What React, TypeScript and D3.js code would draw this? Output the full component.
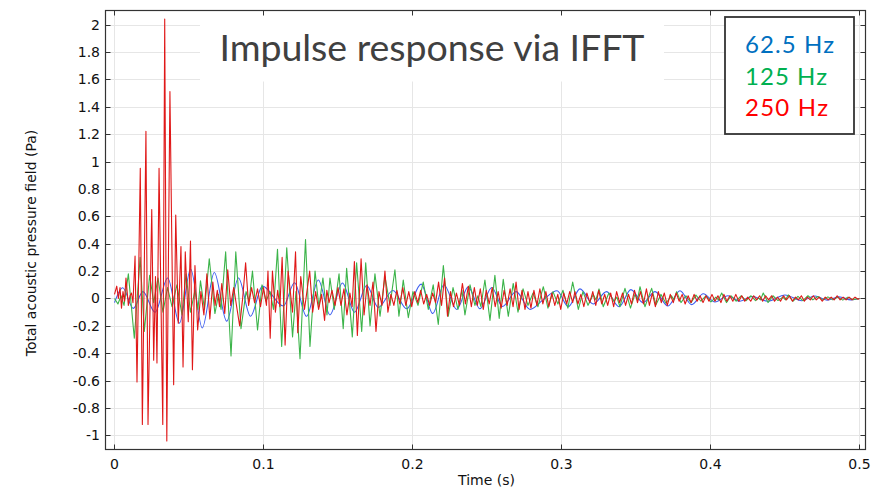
import React from 'react';
import * as d3 from 'd3';

// time in ms, value in Pa
const blueData: [number, number][] = [
  [0,-0.03],[5.5,0.078],[12.6,-0.072],[19.1,0.05],[27.2,-0.10],[35.7,0.15],[43.6,-0.18],[51.1,0.215],[58.9,-0.215],[67.0,0.19],[75.3,-0.165],[83.2,0.15],[91.3,-0.13],[99.3,0.09],[113.3,-0.055],[120.8,0.115],[128.9,-0.13],[136.8,0.135],[144.6,-0.12],[153.0,0.113],[161.1,-0.10],[169.3,0.095],[177.0,-0.065],[186.9,0.058],[196.1,-0.075],[205.8,0.105],[213.6,-0.11],[221.1,0.10],[229.7,-0.08],[237.4,0.085],[245.3,-0.075],[253.2,0.08],[260.4,-0.058],[269.5,0.05],[278.9,-0.08],[287.6,-0.01],[297.0,0.057],[304.6,-0.06],[312.4,0.07],[321.3,-0.04],[330.3,0.05],[338.6,-0.06],[346.6,0.065],[354.7,-0.03],[362.8,0.05],[371.5,-0.055],[379.5,0.057],[387.4,-0.045],[395.2,0.035],[403.0,-0.025],[411.7,0.02],[419.8,-0.02],[427.9,0.015],[438.6,-0.02],[450.0,0.026],[461.2,-0.016],[470.1,0.018],[478.2,-0.012],[486.2,0.012],[494.3,-0.01],[500,0.0]
];

const greenData: [number, number][] = [
  [0,0],[2.3,-0.04],[4.4,0.02],[6.4,-0.05],[9.3,0.18],[13.3,-0.29],[17.2,0.30],[20.0,-0.24],[23.6,0.17],[26.3,-0.03],[29.2,0.15],[32.5,-0.10],[35.6,0.08],[38.6,-0.06],[41.9,0.10],[45.3,-0.12],[48.0,0.18],[51.0,-0.10],[54.0,0.06],[56.0,-0.08],[57.7,0.13],[60.4,-0.08],[63.6,0.29],[67.4,-0.11],[69.8,0.03],[71.5,-0.08],[74.6,0.34],[78.2,-0.42],[81.4,0.34],[84.9,-0.22],[88.3,0.05],[90.3,-0.02],[92.6,0.20],[96.0,-0.23],[99.0,0.10],[101.7,-0.02],[104.4,0.05],[106.7,-0.08],[109.4,0.36],[112.2,-0.35],[115.6,0.37],[119.5,-0.28],[121.8,0.05],[124.5,-0.44],[128.2,0.43],[131.2,-0.35],[134.6,0.20],[137.2,-0.06],[139.9,0.15],[142.6,-0.12],[144.6,0.15],[147.5,-0.08],[150.7,0.18],[153.5,-0.22],[155.8,0.22],[159.6,-0.28],[162.5,0.26],[165.9,-0.24],[168.6,0.26],[171.5,-0.20],[174.8,0.18],[178.2,-0.13],[181.5,0.16],[184.9,-0.05],[188.2,0.21],[190.9,-0.13],[193.8,0.135],[197.2,-0.14],[200.3,0.05],[203.7,-0.05],[207.2,0.12],[210.6,-0.08],[213.9,0.10],[217.3,-0.19],[220.7,0.24],[224.0,-0.13],[227.2,0.08],[230.5,-0.08],[233.2,0.06],[235.2,-0.12],[238.6,0.10],[241.9,-0.05],[243.9,0.02],[245.9,-0.06],[248.6,0.135],[252.0,-0.16],[255.3,0.17],[258.2,-0.145],[260.9,0.14],[264.3,-0.13],[267.6,0.11],[270.8,-0.10],[274.2,0.07],[277.5,-0.05],[280.9,0.04],[284.2,-0.06],[287.8,0.086],[290.9,-0.07],[294.3,0.05],[297.6,-0.04],[301.0,0.06],[304.3,-0.07],[307.5,0.12],[311.3,-0.08],[314.4,0.05],[317.8,-0.05],[321.3,0.03],[323.1,-0.01],[325.2,0.07],[328.0,-0.06],[331.8,0.04],[335.2,-0.02],[337.2,0.01],[339.2,-0.06],[342.6,0.074],[346.3,-0.07],[349.3,0.03],[351.0,-0.01],[352.7,0.086],[356.0,-0.06],[360.5,0.074],[363.4,-0.045],[366.7,0.03],[370.1,-0.035],[373.8,0.02],[375.4,-0.01],[377.3,0.05],[380.2,-0.03],[383.5,0.02],[386.9,-0.03],[390.2,0.025],[393.6,-0.02],[396.9,0.02],[400.3,-0.025],[403.6,0.01],[405.3,-0.01],[407.5,0.04],[410.7,-0.03],[413.8,0.02],[417.2,-0.02],[420.5,0.02],[423.9,-0.015],[427.2,0.02],[430.2,-0.015],[432.2,0.005],[433.5,-0.01],[435.4,0.04],[438.6,-0.03],[441.9,0.02],[445.3,-0.015],[448.6,0.01],[450.3,-0.01],[452.2,0.026],[455.3,-0.02],[458.7,0.015],[462.0,-0.015],[465.4,0.02],[468.7,-0.01],[472.1,0.015],[475.4,-0.012],[478.8,0.012],[482.1,-0.01],[485.5,0.01],[488.8,-0.012],[492.2,0.01],[495.5,-0.008],[500,0]
];

const redData: [number, number][] = [
  [0,0.03],[1.5,0.09],[2.6,0.0],[3.7,0.08],[4.7,-0.07],[5.7,0.05],[6.7,-0.02],[7.7,0.15],[9.3,-0.05],[10.4,0.02],[11.4,0.04],[12.4,-0.03],[13.8,0.31],[15.1,-0.61],[17.3,0.95],[18.7,-0.92],[21.1,1.22],[22.5,-0.92],[25.0,0.65],[26.3,-0.45],[27.5,0.16],[28.5,-0.47],[29.9,0.95],[32.4,-0.92],[33.7,2.04],[35.1,-1.04],[37.2,1.51],[39.7,-0.63],[41.1,0.61],[42.8,-0.18],[44.6,0.38],[46.0,-0.50],[47.5,0.34],[49.5,-0.17],[51.0,0.42],[52.3,-0.52],[54.0,0.24],[55.8,-0.23],
  [58,0.05],[60,-0.12],[62,0.18],[64,-0.15],[66,0.12],[67.5,-0.05],[69,0.06],[70.5,-0.06],[72,0.11],[74,-0.11],[76,0.21],[78,-0.05],[80,0.08],[84,-0.2],[86,0.0],[88,0.26],[90,-0.05],[92,0.08],[94,-0.03],[96,0.07],[98,-0.06],[100,0.08],[102,-0.05],[103,0.2],[104.5,-0.29],[106,0.2],[108,-0.1],[109.5,0.06],[111,-0.06],[112.5,0.3],[114.5,-0.34],[116.5,0.2],[119.5,-0.1],[121.5,0.34],[123,-0.25],[125,0.16],[127.5,-0.08],[131,0.2],[133,-0.1],[135,0.05],[137,-0.08],[139,0.03],[141,-0.16],[142.5,0.06],[144,-0.03],[146,0.06],[148,-0.05],[150,0.08],[152,-0.05],[154,0.07],[156,-0.12],[158,0.04],[159.5,-0.06],[161,0.27],[163,-0.27],[165.5,0.29],[167.5,-0.12],[169.5,0.1],[171.5,-0.05],[173.5,0.12],[175.5,-0.24],[177.5,0.05],[179.5,-0.05],[181.5,0.2],[183.5,-0.1],[185.5,0.03],[187.5,-0.05],[189.5,0.06],[191.5,-0.04],[193.5,0.08],[195.5,-0.05],[197.5,0.05],[199.5,-0.06],[201.5,0.05],[203.5,-0.03],[205.5,0.06],[207.5,-0.04],[209.5,0.03],[211.5,-0.05],[213.5,0.04],[215.5,-0.03],[217.5,0.12],[219.5,-0.05],[221.5,0.15],[223.5,-0.13],[225.5,0.05],[227.5,-0.06],[229.5,0.04],[231.5,-0.05],[233.5,0.11],[235.5,-0.04],[237.5,0.09],[239.5,-0.06],[241.5,0.08],[243.5,-0.05],[245.5,0.07],[247.5,-0.08],[249.5,0.06],[251.5,-0.04],[253.5,0.08],[255.5,-0.06],[257.5,0.05],[259.5,-0.07],[261.5,0.06],[263.5,-0.05],[265.5,0.07],[267.5,-0.06],[269.5,0.12],[271.5,-0.08],[273.5,0.06],[275.5,-0.08],[277.5,0.05],[279.5,-0.07],[281.5,0.06],[283.5,-0.05],[285.5,0.07],[287.5,-0.04],[289.5,0.05],[291.5,-0.06],[293.5,0.04],[295.5,-0.05],[297.5,0.03],[299.5,-0.08],[301.5,0.04],[303.5,-0.04],[305.5,0.05],[307.5,-0.03],
  [309,0.05],[311,-0.04],[313,0.03],[315,-0.06],[317,0.04],[319,-0.03],[321,0.05],[323,-0.05],[325,0.06],[327,-0.04],[329,0.03],[331,-0.05],[333,0.04],[335,-0.06],[337,0.05],[339,-0.03],[341,0.04],[343,-0.05],[345,0.03],[347,-0.04],[349,0.06],[351,-0.03],[353,0.05],[355,-0.04],[357,0.07],[359,-0.05],[361,0.04],[363,-0.06],[365,0.05],[367,-0.03],[369,0.04],[371,-0.05],[373,0.03],[375,-0.03],[377,0.04],[379,-0.02],[381,0.03],[383,-0.04],[385,0.02],[387,-0.03],[389,0.03],[391,-0.02],[393,0.02],[395,-0.03],[397,0.02],[399,-0.02],[401,0.03],[403,-0.02],[405,0.02],[407,-0.03],[409,0.03],[411,-0.02],[413,0.02],[415,-0.02],[417,0.03],[419,-0.02],[421,0.02],[423,-0.02],[425,0.01],[427,-0.02],[429,0.02],[431,-0.01],[433,0.02],[435,-0.02],[437,0.02],[439,-0.01],[441,0.02],[443,-0.02],[445,0.01],[447,-0.02],[449,0.02],[451,-0.01],[453,0.02],[455,-0.02],[457,0.01],[459,-0.01],[461,0.02],[463,-0.02],[465,0.01],[467,-0.01],[469,0.02],[471,-0.01],[473,0.01],[475,-0.02],[477,0.01],[479,-0.01],[481,0.01],[483,-0.01],[485,0.02],[487,-0.01],[489,0.01],[491,-0.01],[493,0.01],[495,-0.01],[497,0.01],[499,-0.005],[500,0]
];

const xTicks = [0, 0.1, 0.2, 0.3, 0.4, 0.5];
const yTicks = [-1, -0.8, -0.6, -0.4, -0.2, 0, 0.2, 0.4, 0.6, 0.8, 1, 1.2, 1.4, 1.6, 1.8, 2];
const legendLabels = ['62.5 Hz', '125 Hz', '250 Hz'];
const titleText = 'Impulse response via IFFT';
const xLabel = 'Time (s)';
const yLabel = 'Total acoustic pressure field (Pa)';

const lineColors = ['#3d5ef0', '#3cb44a', '#e01818'];
const legendColors = ['#0070c0', '#00b050', '#ff0000'];
const legendWidths = [89, 82, 83];

export default function App() {
  const W = 887, H = 488;
  const L = 105.5, R = 865.5, T = 10.5, B = 449.5;
  const x = d3.scaleLinear().domain([-0.00604, 0.50403]).range([L, R]);
  const y = d3.scaleLinear().domain([-1.1022, 2.1022]).range([B, T]);
  const sharp = d3.line<[number, number]>().x(d => x(d[0] / 1000)).y(d => y(d[1]));
  const smooth = d3.line<[number, number]>().x(d => x(d[0] / 1000)).y(d => y(d[1])).curve(d3.curveMonotoneX);
  const tickFont = "'DejaVu Sans', sans-serif";
  const fmt = (v: number) => String(+v.toFixed(1));
  return (
    <svg width={W} height={H} style={{ position: 'absolute', left: 0, top: 0, background: '#fff' }}>
      <rect x={0} y={0} width={W} height={H} fill="#fff" />
      <defs>
        <clipPath id="plotclip"><rect x={L} y={T} width={R - L} height={B - T} /></clipPath>
      </defs>
      {/* grid */}
      <g stroke="#e6e6e6" strokeWidth={1}>
        {yTicks.map(v => <line key={'gy' + v} x1={L} x2={R} y1={Math.round(y(v)) + 0.5} y2={Math.round(y(v)) + 0.5} />)}
        {xTicks.map(v => <line key={'gx' + v} y1={T} y2={B} x1={Math.round(x(v)) + 0.5} x2={Math.round(x(v)) + 0.5} />)}
      </g>
      {/* title box */}
      <rect x={200} y={T + 1} width={464} height={70} fill="#fff" />
      <text x={432} y={61} textAnchor="middle" fontFamily="Lato, sans-serif" fontSize={37.5} fill="#404040" textLength={425} lengthAdjust="spacing">{titleText}</text>
      {/* series */}
      <g clipPath="url(#plotclip)" fill="none" strokeWidth={1.1} strokeLinejoin="round">
        <path d={smooth(blueData) || ''} stroke={lineColors[0]} />
        <path d={sharp(greenData) || ''} stroke={lineColors[1]} />
        <path d={sharp(redData) || ''} stroke={lineColors[2]} />
      </g>
      {/* frame */}
      <rect x={L} y={T} width={R - L} height={B - T} fill="none" stroke="#333" strokeWidth={1.2} />
      {/* ticks */}
      <g stroke="#333" strokeWidth={1}>
        {yTicks.map(v => {
          const yy = Math.round(y(v)) + 0.5;
          return <g key={'ty' + v}><line x1={L} x2={L + 5} y1={yy} y2={yy} /><line x1={R - 5} x2={R} y1={yy} y2={yy} /></g>;
        })}
        {xTicks.map(v => {
          const xx = Math.round(x(v)) + 0.5;
          return <g key={'tx' + v}><line y1={B} y2={B - 5} x1={xx} x2={xx} /><line y1={T} y2={T + 5} x1={xx} x2={xx} /></g>;
        })}
      </g>
      {/* tick labels */}
      <g fontFamily={tickFont} fontSize={14} fill="#111">
        {yTicks.map(v => <text key={'ly' + v} x={100} y={y(v) + 5} textAnchor="end">{fmt(v)}</text>)}
        {xTicks.map(v => <text key={'lx' + v} x={x(v)} y={469} textAnchor="middle">{fmt(v)}</text>)}
      </g>
      <text x={(L + R) / 2 + 1} y={485} textAnchor="middle" fontFamily={tickFont} fontSize={14} fill="#111">{xLabel}</text>
      <text transform={`translate(36, ${243}) rotate(-90)`} textAnchor="middle" fontFamily={tickFont} fontSize={14} fill="#111">{yLabel}</text>
      {/* legend */}
      <rect x={725} y={17} width={129} height={117} fill="#fff" stroke="#333" strokeWidth={1.8} />
      {legendLabels.map((lab, i) => (
        <text key={lab} x={745} y={53 + i * 31.5} fontFamily="Lato, sans-serif" fontSize={24} fill={legendColors[i]} textLength={legendWidths[i]} lengthAdjust="spacing">{lab}</text>
      ))}
    </svg>
  );
}
